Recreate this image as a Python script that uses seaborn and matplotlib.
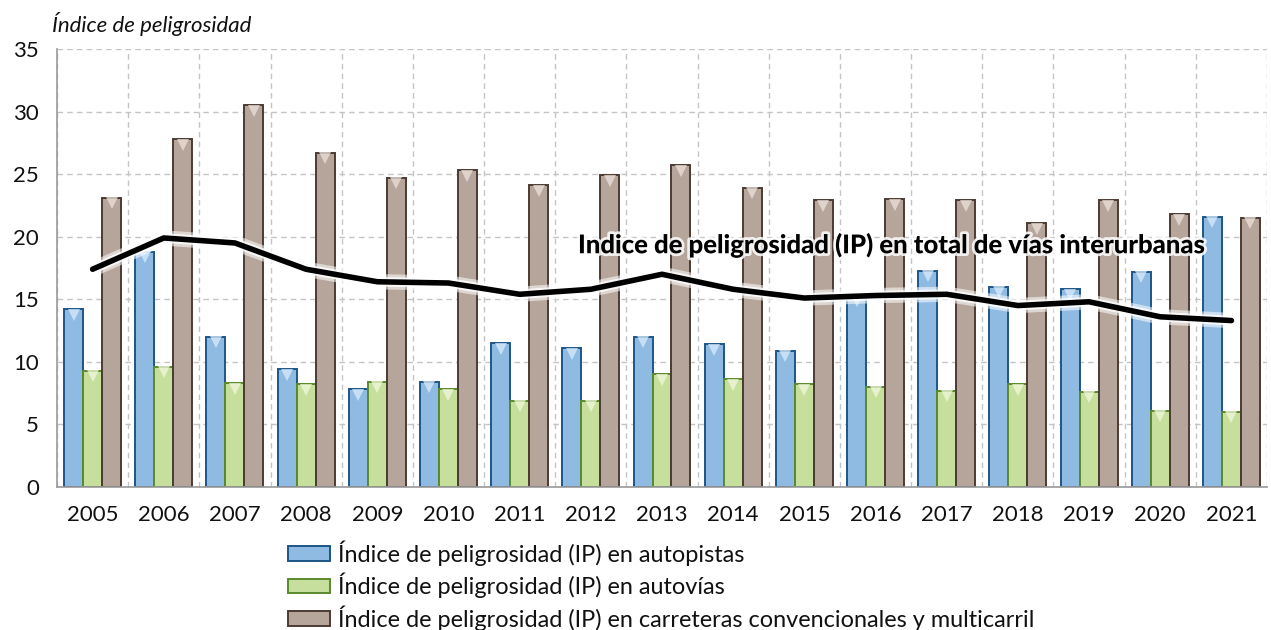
import numpy as np
import pandas as pd
import matplotlib
matplotlib.use("Agg")
import matplotlib.pyplot as plt
import matplotlib.patheffects as pe
import matplotlib.transforms as mtransforms
from matplotlib.patches import Patch
from matplotlib import font_manager
import seaborn as sns

# Data: danger index by road type, 2005-2021
years = ["2005", "2006", "2007", "2008", "2009", "2010", "2011", "2012", "2013",
         "2014", "2015", "2016", "2017", "2018", "2019", "2020", "2021"]
ip_autopistas = [14.2, 18.8, 12.0, 9.4, 7.8, 8.4, 11.5, 11.1, 12.0,
                 11.4, 10.9, 15.3, 17.3, 16.0, 15.8, 17.2, 21.6]
ip_autovias = [9.3, 9.6, 8.3, 8.2, 8.4, 7.8, 6.9, 6.9, 9.0,
               8.6, 8.2, 8.0, 7.7, 8.2, 7.6, 6.1, 6.0]
ip_convencionales = [23.1, 27.8, 30.5, 26.7, 24.7, 25.3, 24.1, 24.9, 25.7,
                     23.9, 22.9, 23.0, 22.9, 21.1, 22.9, 21.8, 21.5]
ip_total = [17.4, 19.9, 19.5, 17.4, 16.4, 16.3, 15.4, 15.8, 17.0,
            15.8, 15.1, 15.3, 15.4, 14.5, 14.8, 13.6, 13.3]

series_names = [
    "Índice de peligrosidad (IP) en autopistas",
    "Índice de peligrosidad (IP) en autovías",
    "Índice de peligrosidad (IP) en carreteras convencionales y multicarril",
]
total_label = "Indice de peligrosidad (IP) en total de vías interurbanas"
y_title = "Índice de peligrosidad"

face_colors = ["#8fbbe3", "#c6df9c", "#b5a59b"]
edge_colors = ["#1d5687", "#5a8a2c", "#4b3b33"]
tip_colors = ["#d9ecfb", "#f1f9dc", "#ece2dc"]

df = pd.DataFrame({
    "year": years * 3,
    "value": ip_autopistas + ip_autovias + ip_convencionales,
    "serie": np.repeat(series_names, len(years)),
})

sns.set_theme(style="white")
available = {f.name for f in font_manager.fontManager.ttflist}
base_font = "Lato" if "Lato" in available else "DejaVu Sans"
plt.rcParams["font.family"] = [base_font, "DejaVu Sans"]

fig = plt.figure(figsize=(12.71, 6.30), dpi=100)
ax = fig.add_axes([57 / 1271, 1 - 487 / 630, (1267 - 57) / 1271, (487 - 49) / 630])

sns.barplot(data=df, x="year", y="value", hue="serie", order=years,
            hue_order=series_names, palette=face_colors, width=0.8,
            saturation=1, ax=ax, legend=False, zorder=2)

# Bevel look: dark outline and a light triangle at the top of each bar
offset = mtransforms.ScaledTranslation(0, -4 / 72, fig.dpi_scale_trans)
for cont, ec, tc in zip(ax.containers, edge_colors, tip_colors):
    for bar in cont:
        bar.set_edgecolor(ec)
        bar.set_linewidth(1.4)
        cx = bar.get_x() + bar.get_width() / 2
        ax.plot([cx], [bar.get_height()], marker="v", markersize=8,
                color=tc, markeredgewidth=0, alpha=0.75, zorder=3,
                transform=ax.transData + offset)

# Total line over the bars, with a soft white halo
x_pos = np.arange(len(years))
sns.lineplot(x=x_pos, y=ip_total, ax=ax, color="black", linewidth=4,
             zorder=5, sort=False)
ax.lines[-1].set_path_effects([
    pe.Stroke(linewidth=11, foreground="white", alpha=0.55),
    pe.Stroke(linewidth=7, foreground="white", alpha=0.8),
    pe.Normal(),
])
ax.text(6.82, 19.35, total_label, fontsize=18.5, fontweight="black",
        ha="left", va="center", color="black", zorder=6,
        path_effects=[pe.withStroke(linewidth=4, foreground="white", alpha=0.85)])

# Axes, ticks and grid
ax.set_xlim(-0.5, len(years) - 0.5)
ax.set_ylim(0, 35)
ax.set_yticks(np.arange(0, 36, 5))
ax.set_xticks(x_pos)
ax.set_xticklabels(years)
ax.set_xticks(np.arange(-0.5, len(years), 1), minor=True)
ax.set_xlabel("")
ax.set_ylabel("")
ax.tick_params(axis="x", which="major", length=0, pad=13, labelsize=16, colors="#111111")
ax.tick_params(axis="x", which="minor", length=7, width=1, color="#9a9a9a", direction="out")
ax.tick_params(axis="y", which="major", length=7, width=1, color="#9a9a9a",
               direction="out", pad=6, labelsize=16, labelcolor="#111111")
ax.grid(axis="y", which="major", linestyle=(0, (4, 3)), color="#c4c4c4", linewidth=1)
ax.grid(axis="x", which="minor", linestyle=(0, (4, 3)), color="#c4c4c4", linewidth=1)
ax.grid(axis="x", which="major", visible=False)
ax.set_axisbelow(True)
for side in ["top", "right"]:
    ax.spines[side].set_visible(False)
for side in ["left", "bottom"]:
    ax.spines[side].set_color("#9a9a9a")
    ax.spines[side].set_linewidth(1.2)

fig.text(52 / 1271, 1 - 24 / 630, y_title, fontsize=16, style="italic",
         ha="left", va="center", color="#111111")

handles = [Patch(facecolor=fc, edgecolor=ec, linewidth=1.4)
           for fc, ec in zip(face_colors, edge_colors)]
leg = fig.legend(handles, series_names, loc="upper left",
                 bbox_to_anchor=(288 / 1271, 1 - 540 / 630), frameon=False,
                 prop={"size": 16.9},
                 handlelength=1.8, handleheight=0.6, handletextpad=0.34,
                 labelspacing=0.31, borderaxespad=0, borderpad=0)
for t in leg.get_texts():
    t.set_color("#111111")

fig.savefig("out.png", dpi=100)
